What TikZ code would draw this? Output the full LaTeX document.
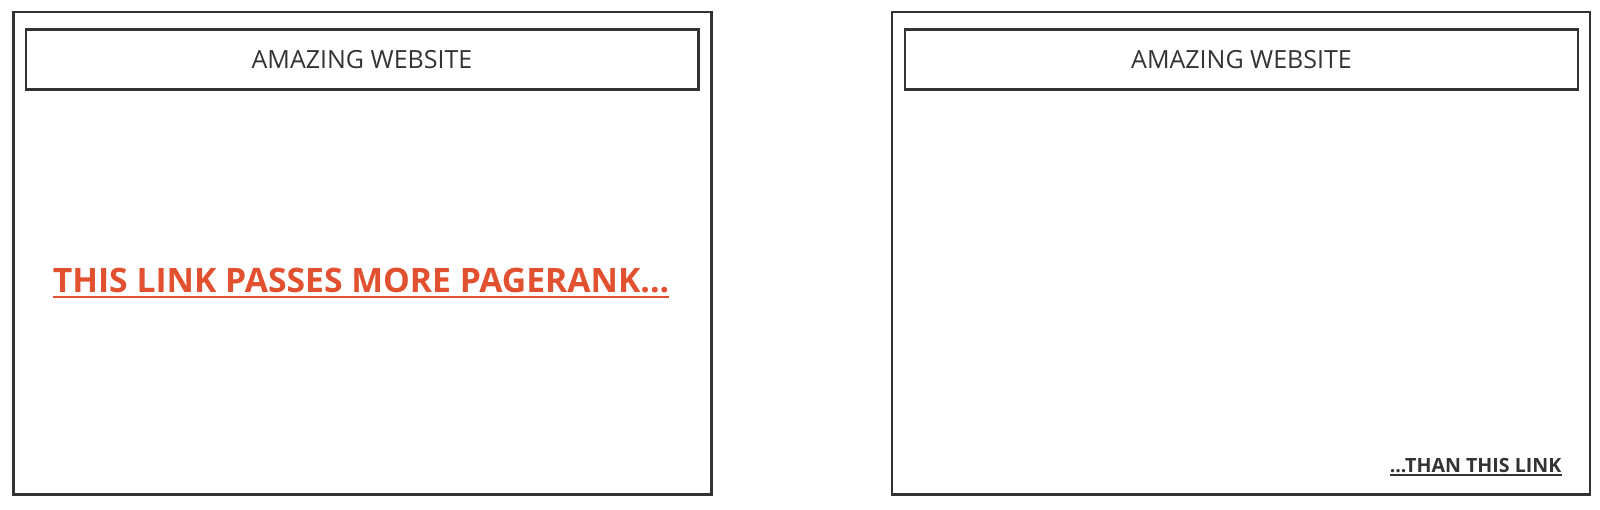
\documentclass[tikz,border=0pt]{standalone}
\usepackage{fontspec}
\setmainfont{Open Sans}
\usepackage{xcolor}
\usetikzlibrary{positioning}

\definecolor{framegray}{HTML}{333333}
\definecolor{linkred}{HTML}{E2512F}

\tikzset{
    pagebox/.style={draw=framegray, line width=2.4pt, minimum width=698pt, minimum height=482.6pt, inner sep=0pt},
    headbox/.style={draw=framegray, line width=2.4pt, minimum width=672.6pt, minimum height=60pt, inner sep=0pt,
        text=framegray, font=\fontsize{25}{30}\selectfont},
    linktext/.style={inner sep=0pt, font=\bfseries}
}

\begin{document}
\begin{tikzpicture}[x=1pt, y=-1pt]
    % Fix the page size
    \useasboundingbox (0,0) rectangle (1600,509);

    % Draw the two website pages
    \node[pagebox] (leftpage) at (362.5,253) {};
    \node[pagebox] (rightpage) at (1241.2,253) {};

    % Add the page headers
    \node[headbox] (lefthead) at (362,59.3) {AMAZING WEBSITE};
    \node[headbox] (righthead) at (1241.5,59.3) {AMAZING WEBSITE};

    % Add the two links
    \node[linktext, text=linkred, font=\bfseries\fontsize{33.7}{38}\selectfont, anchor=base]
        (stronglink) at (361,292.5) {THIS LINK PASSES MORE PAGERANK...};
    \node[linktext, text=framegray, font=\bfseries\fontsize{19.6}{24}\selectfont, anchor=base east]
        (weaklink) at (1561.5,472) {...THAN THIS LINK};

    % Underline the links
    \draw[linkred, line width=2.2pt] ([yshift=-4.5pt]stronglink.base west) -- ([yshift=-4.5pt]stronglink.base east);
    \draw[framegray, line width=1.8pt] ([yshift=-3pt]weaklink.base west) -- ([yshift=-3pt]weaklink.base east);
\end{tikzpicture}
\end{document}
